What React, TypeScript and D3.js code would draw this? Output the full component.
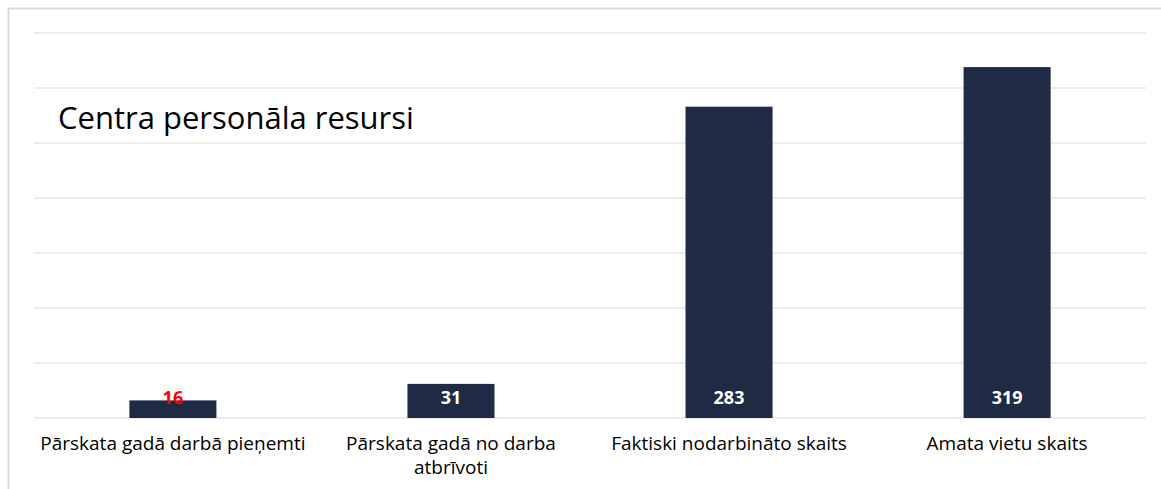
import React from "react";
import * as d3 from "d3";

const categories: string[][] = [
  ["Pārskata gadā darbā pieņemti"],
  ["Pārskata gadā no darba", "atbrīvoti"],
  ["Faktiski nodarbināto skaits"],
  ["Amata vietu skaits"],
];
const values: number[] = [16, 31, 283, 319];
const labelColors: string[] = ["#ff0000", "#ffffff", "#ffffff", "#ffffff"];
const gridTicks: number[] = [0, 50, 100, 150, 200, 250, 300, 350];
const title = "Centra personāla resursi";

export default function App() {
  const W = 1161, H = 489;
  const left = 34, right = 1146, top = 33, bottom = 418;
  const x = d3.scaleBand<number>().domain(values.map((_, i) => i)).range([left, right]).paddingInner(0.687).paddingOuter(0.343);
  const y = d3.scaleLinear().domain([0, 350]).range([bottom, top]);
  const font = "'Open Sans', 'Noto Sans', sans-serif";
  return (
    <svg width={W} height={H} style={{ position: "absolute", left: 0, top: 0, background: "#fff" }}>
      <rect x={8.5} y={8.5} width={W + 20} height={H + 20} fill="#fff" stroke="#d9d9d9" strokeWidth={2} />
      {gridTicks.map((t) => (
        <line key={t} x1={left} x2={right} y1={y(t)} y2={y(t)} stroke="#d9d9d9" strokeWidth={1} />
      ))}
      <text x={58} y={129} fontFamily={font} fontSize={31} fill="#000">{title}</text>
      {values.map((v, i) => (
        <rect key={i} x={x(i)} y={y(v)} width={x.bandwidth()} height={y(0) - y(v)} fill="#1f2a44" />
      ))}
      {values.map((v, i) => (
        <text key={i} x={x(i)! + x.bandwidth() / 2} y={bottom - 14.5} textAnchor="middle" fontFamily={font} fontSize={18} fontWeight={700} fill={labelColors[i]}>{v}</text>
      ))}
      {categories.map((lines, i) => (
        <text key={i} x={x(i)! + x.bandwidth() / 2} y={449.5} textAnchor="middle" fontFamily={font} fontSize={19} fill="#000">
          {lines.map((l, j) => (
            <tspan key={j} x={x(i)! + x.bandwidth() / 2} dy={j === 0 ? 0 : 24}>{l}</tspan>
          ))}
        </text>
      ))}
    </svg>
  );
}
